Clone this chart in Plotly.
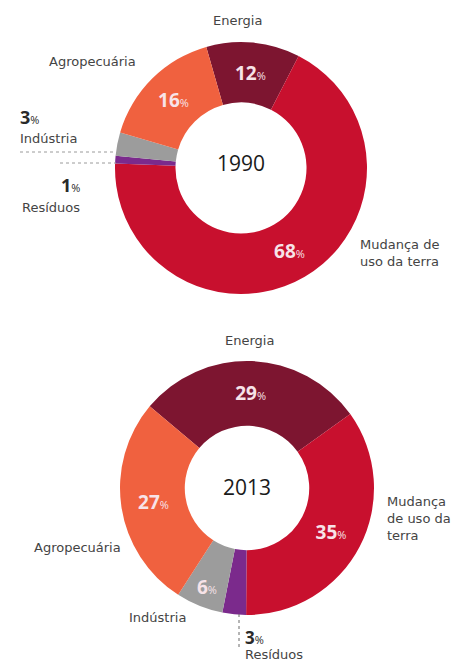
import plotly.graph_objects as go

categories = ["Energia", "Mudança de uso da terra", "Resíduos", "Indústria", "Agropecuária"]
values_1990 = [12, 68, 1, 3, 16]
values_2013 = [29, 35, 3, 6, 27]
years = ["1990", "2013"]
colors = ["#7d1530", "#c8102e", "#7b2a8c", "#9c9c9c", "#f0613f"]

W, H = 463, 663
FONT = "Open Sans"
LFONT = "DejaVu Sans"
LBL = "#444444"

def inside_text(vals, minimum):
    return [f"<b>{v}</b><span style='font-size:11px'>%</span>" if v >= minimum else "" for v in vals]

fig = go.Figure()

def dom(cx, cy, r):
    return dict(x=[(cx - r) / W, (cx + r) / W], y=[(H - cy - r) / H, (H - cy + r) / H])

fig.add_trace(go.Pie(
    labels=categories, values=values_1990, sort=False, direction="clockwise",
    rotation=-16, hole=0.52, domain=dom(241, 168, 126),
    marker=dict(colors=colors, line=dict(width=0)),
    text=inside_text(values_1990, 5), textinfo="text", textposition="inside",
    insidetextorientation="horizontal",
    textfont=dict(family=FONT, size=19, color="#f7e3e8"),
    showlegend=False, hoverinfo="label+percent",
))
fig.add_trace(go.Pie(
    labels=categories, values=values_2013, sort=False, direction="clockwise",
    rotation=-50, hole=0.49, domain=dom(247, 488, 127),
    marker=dict(colors=colors, line=dict(width=0)),
    text=inside_text(values_2013, 5), textinfo="text", textposition="inside",
    insidetextorientation="horizontal",
    textfont=dict(family=FONT, size=19, color="#f7e3e8"),
    showlegend=False, hoverinfo="label+percent",
))

def px(x):
    return x / W

def py(y):
    return 1 - y / H

ann = []
def t(x, y, s, size=13, anchor="center", color=LBL, family=LFONT):
    ann.append(dict(x=px(x), y=py(y), xref="paper", yref="paper", text=s, showarrow=False,
                    xanchor=anchor, yanchor="middle",
                    align="left" if anchor == "left" else ("right" if anchor == "right" else "center"),
                    borderpad=0,
                    font=dict(family=family, size=size, color=color)))

pct = lambda v: f"<b>{v}</b><span style='font-size:11px'>%</span>"

# centre years
t(241, 163, years[0], size=21, color="#1a1a1a", family=FONT)
t(247, 487, years[1], size=21, color="#1a1a1a", family=FONT)

# 1990 labels
t(237, 20, categories[0])
t(137, 61, categories[4], anchor="right")
t(19, 117, pct(values_1990[3]), size=18, anchor="left", color="#2a2a2a", family=FONT)
t(19, 138, categories[3], anchor="left")
t(81, 185, pct(values_1990[2]), size=18, anchor="right", color="#2a2a2a", family=FONT)
t(81, 207, categories[2], anchor="right")
t(359, 253, "Mudança de<br>uso da terra", anchor="left")

# 2013 labels
t(250, 341, categories[0])
t(386, 518, "Mudança<br>de uso da<br>terra", anchor="left")
t(122, 547, categories[4], anchor="right")
t(187, 617, categories[3], anchor="right")
t(244, 637, pct(values_2013[2]), size=17, anchor="left", color="#2a2a2a", family=FONT)
t(244, 654, categories[2], anchor="left")

shapes = [
    dict(type="line", xref="paper", yref="paper", x0=px(20), x1=px(116), y0=py(152), y1=py(152),
         line=dict(color="#9a9a9a", width=1, dash="dot")),
    dict(type="line", xref="paper", yref="paper", x0=px(60), x1=px(116), y0=py(163), y1=py(163),
         line=dict(color="#9a9a9a", width=1, dash="dot")),
    dict(type="line", xref="paper", yref="paper", x0=px(239), x1=px(239), y0=py(614), y1=py(648),
         line=dict(color="#6a6a6a", width=1, dash="dot")),
]

fig.update_layout(
    width=W, height=H, margin=dict(l=0, r=0, t=0, b=0),
    paper_bgcolor="white", plot_bgcolor="white",
    annotations=ann, shapes=shapes,
    font=dict(family=FONT),
)

fig.write_html("out.html")
